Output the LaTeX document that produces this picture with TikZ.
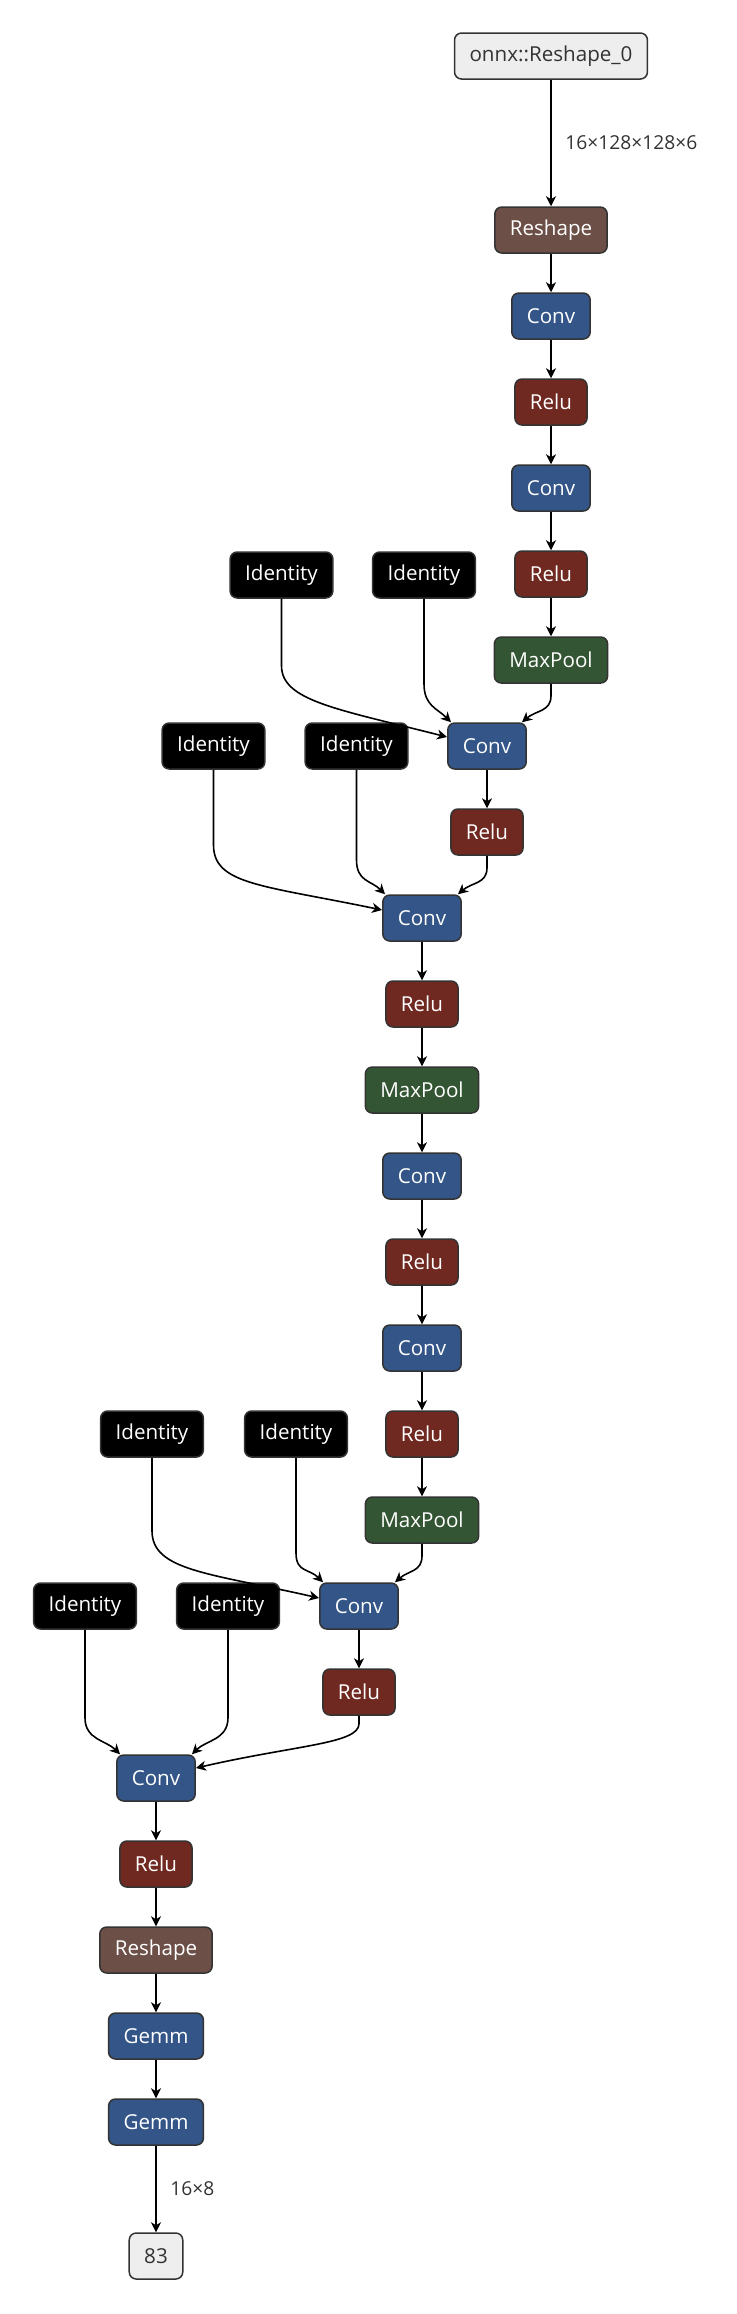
\documentclass[tikz,border=0pt]{standalone}
\usepackage{fontspec}
\setmainfont{Open Sans}
\usetikzlibrary{arrows.meta,calc}
\definecolor{ink}{HTML}{333333}
\definecolor{cshape}{HTML}{6C4F47}
\definecolor{clayer}{HTML}{335588}
\definecolor{cact}{HTML}{702921}
\definecolor{cpool}{HTML}{335533}
\definecolor{cio}{HTML}{EEEEEE}
\tikzset{
  >={Stealth[length=5pt,width=5pt,inset=1.5pt]},
  op/.style={draw=ink,line width=0.75pt,rounded corners=3.5pt,minimum height=23pt,inner xsep=7.5pt,inner ysep=0pt,text=white,font=\fontsize{10.3}{12}\selectfont},
  shp/.style={op,fill=cshape},
  lay/.style={op,fill=clayer},
  act/.style={op,fill=cact},
  pool/.style={op,fill=cpool},
  idn/.style={op,fill=black},
  io/.style={op,fill=cio,text=ink},
  arr/.style={->,draw=black,line width=0.8pt},
  lab/.style={font=\fontsize{9.6}{11}\selectfont,text=ink},
}
\begin{document}
\begin{tikzpicture}[x=0.5pt,y=0.5pt]
  \useasboundingbox (0,0) rectangle (736,-2314);
  % first branch
  \node[io] (in0) at (551,-56) {onnx::Reshape\_0};
  \node[shp] (rs1) at (551,-230) {Reshape};
  \node[lay] (cv1) at (551,-316) {Conv};
  \node[act] (rl1) at (551,-402) {Relu};
  \node[lay] (cv2) at (551,-488) {Conv};
  \node[act] (rl2) at (551,-574) {Relu};
  \node[pool] (mp1) at (551,-660) {MaxPool};
  \node[idn] (ida) at (281.5,-575) {Identity};
  \node[idn] (idb) at (424,-575) {Identity};
  \node[lay] (cv3) at (487,-746) {Conv};
  \node[idn] (idc) at (213.5,-746) {Identity};
  \node[idn] (idd) at (356.5,-746) {Identity};
  \node[act] (rl3) at (487,-832) {Relu};
  \node[lay] (cv4) at (422,-918) {Conv};
  \node[act] (rl4) at (422,-1004) {Relu};
  \node[pool] (mp2) at (422,-1090) {MaxPool};
  \node[lay] (cv5) at (422,-1176) {Conv};
  \node[act] (rl5) at (422,-1262) {Relu};
  \node[lay] (cv6) at (422,-1348) {Conv};
  \node[act] (rl6) at (422,-1434) {Relu};
  \node[pool] (mp3) at (422,-1520) {MaxPool};
  \node[idn] (ide) at (152,-1434) {Identity};
  \node[idn] (idf) at (296,-1434) {Identity};
  \node[lay] (cv7) at (359,-1606) {Conv};
  \node[idn] (idg) at (85,-1606) {Identity};
  \node[idn] (idh) at (228,-1606) {Identity};
  \node[act] (rl7) at (359,-1692) {Relu};
  \node[lay] (cv8) at (156,-1778) {Conv};
  \node[act] (rl8) at (156,-1864) {Relu};
  \node[shp] (rs2) at (156,-1950) {Reshape};
  \node[lay] (gm1) at (156,-2036) {Gemm};
  \node[lay] (gm2) at (156,-2122) {Gemm};
  \node[io] (out) at (156,-2256) {83};
  % straight links
  \draw[arr] (in0) -- node[lab,right=3.5pt]{16×128×128×6} (rs1);
  \draw[arr] (rs1) -- (cv1);
  \draw[arr] (cv1) -- (rl1);
  \draw[arr] (rl1) -- (cv2);
  \draw[arr] (cv2) -- (rl2);
  \draw[arr] (rl2) -- (mp1);
  \draw[arr] (cv3) -- (rl3);
  \draw[arr] (cv4) -- (rl4);
  \draw[arr] (rl4) -- (mp2);
  \draw[arr] (mp2) -- (cv5);
  \draw[arr] (cv5) -- (rl5);
  \draw[arr] (rl5) -- (cv6);
  \draw[arr] (cv6) -- (rl6);
  \draw[arr] (rl6) -- (mp3);
  \draw[arr] (cv7) -- (rl7);
  \draw[arr] (cv8) -- (rl8);
  \draw[arr] (rl8) -- (rs2);
  \draw[arr] (rs2) -- (gm1);
  \draw[arr] (gm1) -- (gm2);
  \draw[arr] (gm2) -- node[lab,right=3.5pt]{16×8} (out);
  % merges into the convs
  \draw[arr] (ida.south) -- ++(0,-67) .. controls +(0,-35) and +(-110,28) .. ($(cv3.west)+(0,9)$);
  \draw[arr] (idb.south) -- ++(0,-85) .. controls +(0,-22) and +(-14,14) .. ($(cv3.north west)+(4,0)$);
  \draw[arr] (mp1.south) -- ++(0,-12) .. controls +(0,-16) and +(14,12) .. ($(cv3.north east)+(-5,0)$);
  \draw[arr] (rl3.south) -- ++(0,-12) .. controls +(0,-16) and +(14,12) .. ($(cv4.north east)+(-4,0)$);
  \draw[arr] (idd.south) -- ++(0,-90) .. controls +(0,-22) and +(-14,14) .. ($(cv4.north west)+(3,0)$);
  \draw[arr] (idc.south) -- ++(0,-75) .. controls +(0,-40) and +(-120,25) .. ($(cv4.west)+(0,8)$);
  \draw[arr] (ide.south) -- ++(0,-73) .. controls +(0,-40) and +(-110,25) .. ($(cv7.west)+(0,8)$);
  \draw[arr] (idf.south) -- ++(0,-95) .. controls +(0,-20) and +(-14,14) .. ($(cv7.north west)+(4,0)$);
  \draw[arr] (mp3.south) -- ++(0,-12) .. controls +(0,-16) and +(14,12) .. ($(cv7.north east)+(-4,0)$);
  \draw[arr] (idg.south) -- ++(0,-88) .. controls +(0,-22) and +(-14,14) .. ($(cv8.north west)+(4,0)$);
  \draw[arr] (idh.south) -- ++(0,-88) .. controls +(0,-22) and +(14,14) .. ($(cv8.north east)+(-4,0)$);
  \draw[arr] (rl7.south) -- ++(0,-8) .. controls +(0,-20) and +(100,23) .. ($(cv8.east)+(0,10)$);
\end{tikzpicture}
\end{document}
